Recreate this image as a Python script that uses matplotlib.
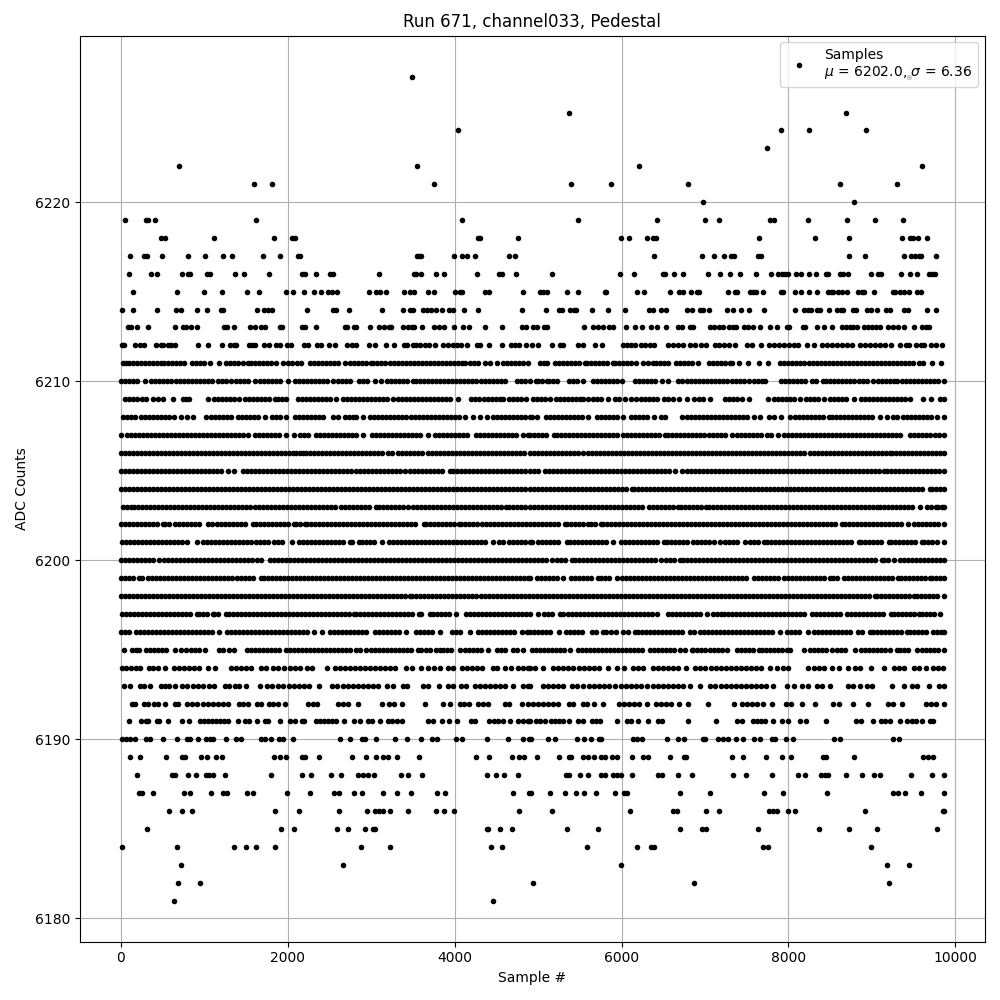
"""Pedestal scatter for run 671, channel033: ADC counts against sample number."""

import numpy as np
import matplotlib
matplotlib.use('Agg')
import matplotlib.pyplot as plt

# sample numbers, one list per ADC count
s6227 = [3490, 9442]
s6225 = [5374, 8686]
s6224 = [4042, 7906, 8242, 8926]
s6223 = [7738]
s6222 = [694, 3550, 6214, 9598]
s6221 = [1594, 1810, 3754, 5398, 5878, 6802, 8614, 9298]
s6220 = [6982, 8782]
s6219 = [46, 300, 320, 406, 1618, 4090, 5482, 6430, 7006, 7162, 7774, 7822, 8230, 8698, 9034, 9370]
s6218 = [478, 526, 1114, 1834, 2050, 2082, 4278, 4302, 4762, 5998, 6094, 6310, 6382, 6418, 7642, 8314, 8722, 9358, 9454, 9490, 9550, 9658]
s6217 = [106, 278, 310, 490, 802, 1006, 1222, 1330, 1702, 1906, 2122, 2146, 3550, 3574, 3598, 3994, 4090, 4150, 4246, 4654, 4726,
         6394, 6970, 7102, 7222, 7306, 7342, 7630, 7666, 8722, 8914, 9382, 9466, 9514, 9562, 9586, 9766]
s6216 = [94, 358, 430, 730, 802, 826, 1030, 1066, 1366, 1474, 1774, 2170, 2206, 2338, 2506, 2542, 3094, 3514, 3538, 3598, 3778, 3874, 4270, 4534, 4570, 4738,
         5170, 5986, 6154, 6502, 6526, 6634, 6742, 7030, 7174, 7294, 7414, 7606, 7786, 7870, 7918, 7954, 7990, 8086, 8146, 8242, 8326, 8446, 8470, 8614, 8650, 8710, 8986, 9070, 9106, 9346, 9454, 9538, 9682, 9718, 9754]
s6215 = [142, 670, 994, 1210, 1510, 1654, 1978, 2062, 2194, 2314, 2398, 2482, 2530, 2590, 2974, 3058, 3106, 3178, 3394, 3466, 3514, 3682, 3754, 4006, 4066, 4090, 4366, 4414, 4822,
         5026, 5062, 5110, 5350, 5482, 5806, 5818, 6190, 6274, 6586, 6694, 6742, 6838, 6910, 6934, 7270, 7354, 7378, 7534, 7570, 7606, 7690, 7906, 7930, 8074, 8146, 8242, 8338, 8470, 8506, 8530, 8590, 8638, 8698, 8830, 8878, 8902, 9022, 9250, 9274, 9334, 9382, 9442, 9538, 9586]
s6214 = [10, 142, 430, 658, 718, 910, 1030, 1198, 1222, 1630, 1714, 1762, 1810, 2230, 2542, 2578, 2734, 3130, 3382, 3466, 3502, 3622, 3670, 3718, 3778, 3850, 3934, 3982, 4114, 4282, 4810,
         5098, 5254, 5290, 5386, 5434, 5458, 5650, 5842, 6046, 6334, 6382, 6478, 6538, 6790, 6850, 6946, 6982, 7042, 7258, 7330, 7426, 7522, 7702, 8074, 8182, 8230, 8266, 8338, 8374, 8482, 8578, 8626, 8650, 8770, 8806, 8938, 8986, 9058, 9166, 9214, 9382, 9430, 9658, 9766]
s6213 = [82, 118, 190, 322, 646, 742, 778, 838, 910, 1234, 1270, 1354, 1546, 1606, 1678, 1726, 1906, 1930, 2170, 2206, 2338, 2686, 2710, 2794, 2818, 2986, 3094, 3154, 3214, 3238, 3382, 3442, 3490, 3514, 3610, 3754, 3814, 3874, 3994, 4102, 4174, 4366, 4570, 4810, 4858,
         4942, 4982, 5074, 5110, 5554, 5662, 5722, 5782, 5854, 5902, 6058, 6166, 6250, 6358, 6430, 6538, 6682, 6730, 6826, 6862, 7054, 7102, 7162, 7210, 7282, 7330, 7366, 7462, 7510, 7570, 7654, 7774, 7858, 7978, 8002, 8170, 8194, 8338, 8422, 8518, 8638, 8686, 8734, 8770, 8818, 8902, 8950, 8998, 9046, 9094, 9190, 9250, 9310, 9382, 9502, 9598, 9646, 9682]
s6212 = [10, 34, 166, 226, 274, 418, 478, 502, 562, 598, 646, 922, 1042, 1210, 1306, 1354, 1378, 1534, 1570, 1606, 1714, 1774, 1858, 1906, 1990, 2038, 2194, 2242, 2350, 2398, 2494, 2566, 2710, 2770, 2818, 2974, 3046, 3178, 3274, 3394, 3430, 3502, 3538, 3586, 3646, 3694, 3766, 3862, 3922, 3982, 4030, 4078, 4150, 4270, 4306, 4414, 4570, 4678, 4726, 4774, 4858,
         4922, 5002, 5170, 5266, 5302, 5482, 5542, 5686, 5770, 6022, 6070, 6118, 6166, 6238, 6286, 6346, 6394, 6562, 6622, 6682, 6742, 6826, 6886, 6958, 7018, 7114, 7162, 7222, 7282, 7354, 7498, 7558, 7666, 7762, 7822, 7882, 7942, 8002, 8062, 8110, 8218, 8302, 8398, 8458, 8518, 8578, 8638, 8698, 8758, 8854, 8914, 8974, 9034, 9094, 9154, 9226, 9334, 9406, 9442, 9526, 9586, 9622, 9706, 9766, 9838]
s6211 = [30, 62, 94, 142, 190, 238, 286, 334, 382, 430, 478, 522, 562, 610, 658, 706, 762, 854, 902, 950, 1002, 1070, 1174, 1262, 1310, 1358, 1406, 1462, 1522, 1562, 1610, 1658, 1706, 1754, 1802, 1854, 1942, 2002, 2054, 2106, 2162, 2270, 2318, 2366, 2414, 2462, 2510, 2558, 2606, 2682, 2742, 2790, 2838, 2886, 2934, 3002, 3022, 3070, 3118, 3162, 3222, 3270, 3318, 3366, 3414, 3462, 3510, 3558, 3606, 3654, 3702, 3750, 3798, 3846, 3902, 3942, 3990, 4038, 4086, 4122, 4190, 4238, 4286, 4362, 4422, 4502, 4582, 4630, 4678, 4726, 4774, 4822, 4882,
         5022, 5066, 5110, 5202, 5250, 5298, 5346, 5394, 5442, 5490, 5562, 5582, 5630, 5678, 5726, 5774, 5822, 5902, 5922, 5970, 6018, 6066, 6114, 6174, 6262, 6322, 6382, 6414, 6462, 6510, 6562, 6650, 6698, 6746, 6794, 6842, 6922, 7042, 7090, 7138, 7186, 7234, 7302, 7322, 7402, 7510, 7642, 7750, 7894, 7942, 7990, 8038, 8086, 8134, 8182, 8242, 8290, 8338, 8386, 8434, 8482, 8530, 8578, 8626, 8674, 8722, 8770, 8818, 8866, 8914, 8962, 9010, 9058, 9106, 9154, 9202, 9250, 9298, 9346, 9394, 9442, 9490, 9562, 9610, 9718, 9826]
s6210 = [0, 46, 94, 142, 190, 286, 362, 410, 462, 502, 550, 602, 662, 710, 758, 806, 854, 902, 950, 998, 1046, 1094, 1162, 1214, 1262, 1322, 1382, 1430, 1478, 1526, 1602, 1662, 1710, 1758, 1806, 1862, 1906, 2002, 2082, 2130, 2178, 2226, 2274, 2322, 2370, 2418, 2466, 2542, 2602, 2650, 2702, 2750, 2854, 2902, 2950, 3042, 3122, 3190, 3238, 3286, 3334, 3382, 3430, 3502, 3542, 3590, 3638, 3686, 3734, 3782, 3830, 3878, 3926, 3974, 4022, 4070, 4118, 4166, 4214, 4262, 4310, 4358, 4406, 4454, 4502, 4550, 4602, 4742, 4790, 4838, 4902,
         4974, 5002, 5050, 5102, 5134, 5182, 5230, 5374, 5414, 5470, 5534, 5662, 5710, 5758, 5806, 5854, 5902, 5950, 6002, 6162, 6210, 6258, 6306, 6354, 6402, 6482, 6562, 6682, 6730, 6782, 6830, 6878, 6926, 6974, 7022, 7070, 7118, 7166, 7214, 7262, 7322, 7374, 7422, 7470, 7522, 7582, 7630, 7678, 7722, 7910, 7958, 8006, 8054, 8102, 8150, 8198, 8282, 8334, 8414, 8454, 8502, 8550, 8598, 8642, 8694, 8742, 8790, 8842, 8890, 8938, 9014, 9070, 9118, 9166, 9214, 9262, 9302, 9362, 9410, 9458, 9506, 9554, 9602, 9650, 9698, 9746, 9794, 9862]
s6209 = [54, 102, 150, 198, 250, 302, 382, 446, 510, 630, 742, 782, 822, 1042, 1122, 1170, 1218, 1266, 1314, 1362, 1422, 1490, 1538, 1586, 1634, 1682, 1730, 1778, 1842, 1882, 1930, 1982, 2122, 2170, 2218, 2266, 2314, 2362, 2410, 2458, 2506, 2582, 2662, 2710, 2758, 2806, 2854, 2902, 2950, 2998, 3046, 3094, 3142, 3190, 3262, 3322, 3370, 3418, 3466, 3514, 3562, 3610, 3658, 3706, 3754, 3802, 3850, 3898, 3946, 4042, 4202, 4250, 4298, 4346, 4394, 4442, 4490, 4542, 4582, 4654, 4702, 4750, 4798, 4854,
         4942, 4982, 5030, 5078, 5142, 5214, 5262, 5310, 5358, 5406, 5454, 5502, 5542, 5602, 5662, 5710, 5758, 5842, 5922, 5970, 6042, 6110, 6174, 6230, 6278, 6326, 6374, 6422, 6510, 6562, 6622, 6694, 6782, 6870, 6934, 6982, 7054, 7242, 7290, 7338, 7386, 7442, 7522, 7750, 7830, 7878, 7926, 7974, 8022, 8070, 8142, 8214, 8262, 8310, 8358, 8422, 8502, 8550, 8598, 8646, 8694, 8782, 8870, 8918, 8966, 9014, 9062, 9110, 9158, 9206, 9254, 9302, 9350, 9402, 9454, 9614, 9710, 9814, 9862]
s6208 = [30, 78, 126, 174, 242, 294, 342, 390, 438, 486, 534, 582, 642, 722, 790, 862, 1022, 1082, 1130, 1178, 1226, 1274, 1322, 1402, 1450, 1498, 1546, 1594, 1642, 1722, 1814, 1862, 1902, 1974, 2082, 2130, 2178, 2226, 2274, 2322, 2370, 2422, 2542, 2602, 2682, 2730, 2778, 2822, 2902, 2982, 3030, 3078, 3126, 3174, 3222, 3270, 3318, 3366, 3414, 3482, 3522, 3570, 3618, 3666, 3714, 3762, 3810, 3858, 3906, 3954, 4002, 4050, 4122, 4222, 4302, 4382, 4462, 4510, 4558, 4606, 4654, 4702, 4750, 4798, 4846, 4902,
         4922, 4990, 5094, 5142, 5190, 5238, 5286, 5334, 5382, 5430, 5478, 5526, 5602, 5702, 5750, 5798, 5846, 5894, 5942, 6022, 6110, 6158, 6206, 6254, 6302, 6390, 6470, 6522, 6722, 6782, 6830, 6878, 6926, 6974, 7022, 7070, 7118, 7166, 7214, 7262, 7310, 7358, 7406, 7454, 7502, 7582, 7662, 7762, 7830, 7910, 8014, 8082, 8130, 8178, 8226, 8274, 8322, 8370, 8418, 8482, 8522, 8570, 8618, 8666, 8714, 8762, 8810, 8858, 8906, 8954, 9002, 9094, 9182, 9250, 9302, 9374, 9422, 9470, 9518, 9566, 9614, 9662, 9710, 9782, 9862]
s6207 = [2, 70, 118, 166, 214, 262, 310, 358, 406, 454, 502, 550, 598, 646, 694, 742, 790, 838, 886, 934, 982, 1030, 1078, 1126, 1174, 1222, 1270, 1318, 1366, 1414, 1462, 1522, 1602, 1650, 1698, 1746, 1794, 1842, 1890, 1982, 2070, 2142, 2190, 2238, 2342, 2382, 2430, 2478, 2526, 2574, 2622, 2670, 2718, 2766, 2814, 2902, 3014, 3062, 3110, 3158, 3206, 3254, 3302, 3350, 3398, 3446, 3494, 3542, 3590, 3682, 3762, 3810, 3858, 3906, 3954, 4002, 4050, 4098, 4146, 4254, 4302, 4350, 4398, 4446, 4494, 4542, 4590, 4638, 4686, 4734, 4822, 4882,
         4902, 4950, 4998, 5046, 5094, 5190, 5230, 5278, 5326, 5374, 5422, 5470, 5518, 5566, 5614, 5662, 5710, 5758, 5806, 5854, 5902, 5950, 6022, 6070, 6118, 6166, 6214, 6262, 6310, 6358, 6406, 6454, 6522, 6562, 6610, 6658, 6706, 6754, 6802, 6850, 6898, 6946, 6994, 7042, 7090, 7138, 7186, 7234, 7322, 7382, 7430, 7478, 7526, 7574, 7622, 7670, 7742, 7790, 7870, 7942, 7990, 8038, 8086, 8134, 8182, 8230, 8278, 8326, 8374, 8422, 8470, 8518, 8566, 8614, 8662, 8710, 8758, 8806, 8854, 8902, 8950, 8998, 9046, 9094, 9142, 9190, 9238, 9286, 9342, 9462, 9510, 9558, 9606, 9654, 9702, 9750, 9798, 9862]
s6206 = [0, 48, 96, 144, 192, 240, 288, 336, 384, 432, 480, 528, 576, 624, 672, 720, 768, 816, 864, 912, 960, 1008, 1056, 1104, 1152, 1200, 1248, 1296, 1344, 1392, 1440, 1488, 1536, 1584, 1632, 1680, 1728, 1776, 1824, 1872, 1920, 1968, 2016, 2064, 2102, 2142, 2182, 2222, 2270, 2318, 2366, 2414, 2462, 2510, 2558, 2606, 2654, 2702, 2750, 2798, 2846, 2894, 2942, 2990, 3038, 3086, 3134, 3202, 3254, 3322, 3370, 3418, 3466, 3514, 3562, 3614, 3682, 3730, 3778, 3826, 3874, 3922, 3970, 4018, 4066, 4114, 4162, 4210, 4258, 4306, 4354, 4402, 4450, 4498, 4546, 4594, 4642, 4690, 4738, 4786, 4834, 4902,
         4950, 4998, 5046, 5094, 5142, 5190, 5238, 5286, 5334, 5382, 5430, 5482, 5542, 5602, 5642, 5690, 5738, 5786, 5834, 5882, 5930, 5978, 6026, 6074, 6122, 6170, 6218, 6266, 6314, 6362, 6410, 6458, 6506, 6554, 6602, 6650, 6698, 6746, 6794, 6842, 6890, 6938, 6986, 7034, 7082, 7130, 7178, 7226, 7274, 7322, 7370, 7418, 7466, 7514, 7562, 7610, 7658, 7706, 7754, 7802, 7850, 7898, 7946, 7994, 8042, 8090, 8138, 8186, 8262, 8302, 8350, 8398, 8446, 8494, 8542, 8590, 8638, 8686, 8734, 8782, 8830, 8878, 8926, 8974, 9022, 9070, 9118, 9166, 9222, 9242, 9290, 9338, 9386, 9434, 9482, 9530, 9578, 9626, 9674, 9722, 9770, 9818, 9860]
s6205 = [0, 48, 96, 144, 192, 240, 288, 336, 384, 432, 480, 528, 576, 624, 672, 720, 768, 816, 864, 912, 960, 1008, 1056, 1104, 1152, 1200, 1282, 1362, 1462, 1510, 1558, 1606, 1654, 1702, 1750, 1798, 1846, 1894, 1942, 1990, 2038, 2086, 2134, 2182, 2230, 2278, 2326, 2374, 2422, 2470, 2518, 2566, 2614, 2662, 2710, 2762, 2822, 2870, 2918, 2966, 3014, 3062, 3110, 3158, 3206, 3254, 3302, 3350, 3402, 3462, 3510, 3558, 3606, 3654, 3702, 3750, 3798, 3846, 3942, 3982, 4030, 4078, 4126, 4174, 4222, 4270, 4318, 4366, 4414, 4462, 4510, 4558, 4606, 4654, 4702, 4750, 4798, 4846, 4902,
         4950, 4998, 5082, 5134, 5182, 5230, 5278, 5326, 5374, 5422, 5470, 5518, 5566, 5614, 5662, 5710, 5758, 5806, 5854, 5902, 5950, 5998, 6046, 6094, 6142, 6190, 6238, 6286, 6334, 6382, 6430, 6478, 6526, 6574, 6642, 6722, 6782, 6830, 6878, 6926, 6974, 7022, 7070, 7118, 7166, 7214, 7262, 7310, 7358, 7406, 7454, 7502, 7550, 7598, 7646, 7694, 7742, 7790, 7838, 7886, 7934, 7982, 8030, 8078, 8126, 8174, 8222, 8270, 8318, 8366, 8414, 8462, 8510, 8558, 8606, 8654, 8702, 8750, 8798, 8846, 8894, 8942, 8990, 9038, 9086, 9142, 9182, 9230, 9278, 9326, 9374, 9422, 9470, 9518, 9566, 9614, 9662, 9710, 9758, 9806, 9860]
s6204 = [0, 48, 96, 144, 192, 240, 288, 336, 384, 432, 480, 528, 576, 624, 672, 720, 768, 816, 864, 912, 960, 1008, 1056, 1104, 1152, 1200, 1248, 1296, 1344, 1392, 1440, 1488, 1536, 1584, 1632, 1680, 1728, 1776, 1824, 1872, 1920, 1968, 2016, 2064, 2112, 2160, 2208, 2256, 2304, 2352, 2400, 2448, 2496, 2544, 2592, 2640, 2688, 2736, 2784, 2832, 2880, 2928, 2976, 3024, 3072, 3120, 3168, 3216, 3264, 3312, 3360, 3408, 3456, 3504, 3552, 3600, 3648, 3696, 3744, 3792, 3840, 3888, 3936, 3984, 4032, 4080, 4128, 4176, 4224, 4272, 4320, 4368, 4416, 4464, 4512, 4560, 4608, 4656, 4704, 4752, 4800, 4848, 4902,
         4950, 4998, 5046, 5094, 5142, 5190, 5238, 5286, 5334, 5382, 5430, 5478, 5526, 5574, 5622, 5670, 5718, 5766, 5814, 5862, 5910, 5958, 6006, 6054, 6122, 6150, 6198, 6246, 6294, 6342, 6390, 6438, 6486, 6534, 6582, 6630, 6678, 6726, 6774, 6822, 6870, 6918, 6966, 7014, 7062, 7110, 7158, 7206, 7254, 7302, 7350, 7398, 7446, 7494, 7542, 7590, 7638, 7686, 7734, 7782, 7830, 7878, 7926, 7974, 8022, 8070, 8118, 8166, 8214, 8262, 8310, 8358, 8406, 8454, 8502, 8550, 8598, 8646, 8694, 8742, 8790, 8838, 8886, 8934, 8982, 9030, 9078, 9126, 9174, 9222, 9270, 9318, 9366, 9414, 9462, 9510, 9558, 9606, 9694, 9722, 9770, 9818, 9860]
s6203 = [30, 78, 122, 162, 210, 258, 306, 354, 402, 450, 498, 546, 594, 642, 690, 738, 786, 834, 882, 930, 978, 1026, 1074, 1122, 1170, 1218, 1266, 1314, 1362, 1410, 1458, 1506, 1554, 1602, 1650, 1698, 1746, 1794, 1842, 1890, 1938, 1986, 2034, 2082, 2130, 2178, 2226, 2274, 2322, 2370, 2418, 2466, 2514, 2562, 2642, 2682, 2730, 2778, 2826, 2874, 2922, 2970, 3062, 3094, 3142, 3190, 3238, 3286, 3334, 3382, 3442, 3502, 3550, 3598, 3646, 3694, 3742, 3790, 3838, 3886, 3934, 3982, 4030, 4078, 4126, 4174, 4222, 4270, 4318, 4366, 4414, 4462, 4510, 4558, 4614, 4654, 4702, 4750, 4798, 4846, 4902,
         4950, 4998, 5046, 5094, 5142, 5190, 5238, 5286, 5334, 5382, 5430, 5478, 5526, 5574, 5622, 5670, 5718, 5766, 5814, 5862, 5910, 5958, 6006, 6054, 6102, 6150, 6198, 6246, 6334, 6382, 6430, 6478, 6526, 6574, 6622, 6682, 6710, 6758, 6806, 6854, 6902, 6950, 7014, 7042, 7090, 7138, 7186, 7234, 7282, 7330, 7378, 7426, 7474, 7522, 7570, 7618, 7666, 7714, 7762, 7810, 7858, 7906, 7954, 8002, 8050, 8098, 8146, 8194, 8242, 8290, 8338, 8386, 8434, 8482, 8530, 8578, 8626, 8674, 8722, 8770, 8818, 8866, 8914, 8962, 9010, 9062, 9102, 9150, 9198, 9246, 9294, 9342, 9390, 9438, 9486, 9574, 9662, 9710, 9762, 9790, 9838, 9860]
s6202 = [0, 48, 96, 144, 192, 240, 288, 336, 384, 432, 502, 534, 582, 654, 702, 750, 798, 846, 894, 942, 1042, 1094, 1150, 1198, 1246, 1294, 1342, 1390, 1438, 1486, 1582, 1622, 1670, 1718, 1766, 1814, 1862, 1910, 1958, 2006, 2070, 2102, 2150, 2202, 2230, 2278, 2326, 2374, 2422, 2470, 2518, 2566, 2614, 2662, 2710, 2758, 2806, 2854, 2902, 2950, 2998, 3046, 3094, 3142, 3190, 3238, 3286, 3334, 3382, 3430, 3478, 3526, 3630, 3654, 3702, 3750, 3798, 3846, 3894, 3942, 3990, 4054, 4082, 4130, 4178, 4226, 4274, 4322, 4370, 4418, 4466, 4514, 4562, 4610, 4658, 4706, 4754, 4802, 4850, 4902,
         4950, 4998, 5046, 5094, 5142, 5190, 5238, 5322, 5342, 5390, 5438, 5486, 5534, 5602, 5630, 5678, 5750, 5774, 5822, 5870, 5918, 5966, 6014, 6062, 6110, 6158, 6206, 6254, 6302, 6350, 6398, 6446, 6494, 6542, 6590, 6638, 6686, 6734, 6782, 6830, 6878, 6926, 6974, 7022, 7070, 7118, 7166, 7214, 7262, 7310, 7358, 7406, 7454, 7502, 7550, 7598, 7646, 7694, 7742, 7790, 7838, 7886, 7934, 7982, 8030, 8078, 8126, 8174, 8222, 8270, 8318, 8366, 8414, 8462, 8510, 8558, 8642, 8682, 8730, 8778, 8826, 8874, 8922, 8970, 9018, 9066, 9114, 9162, 9210, 9258, 9306, 9354, 9430, 9502, 9550, 9598, 9646, 9694, 9742, 9790, 9860]
s6201 = [10, 58, 106, 154, 202, 250, 298, 346, 394, 442, 490, 538, 586, 634, 682, 730, 790, 910, 990, 1038, 1086, 1134, 1182, 1230, 1278, 1326, 1374, 1422, 1470, 1518, 1566, 1614, 1662, 1710, 1758, 1830, 1882, 1930, 2054, 2134, 2182, 2230, 2278, 2326, 2374, 2422, 2470, 2518, 2566, 2614, 2662, 2742, 2774, 2854, 2894, 2942, 2990, 3038, 3134, 3214, 3262, 3310, 3358, 3406, 3454, 3502, 3550, 3598, 3646, 3694, 3742, 3790, 3838, 3886, 3934, 3982, 4030, 4078, 4126, 4174, 4222, 4270, 4318, 4366, 4454, 4526, 4574, 4654, 4694, 4742, 4790, 4838, 4902,
         4922, 5002, 5050, 5098, 5146, 5194, 5242, 5350, 5382, 5430, 5478, 5526, 5574, 5622, 5670, 5718, 5766, 5814, 5902, 5990, 6038, 6086, 6134, 6182, 6230, 6278, 6326, 6374, 6422, 6510, 6542, 6590, 6638, 6686, 6734, 6782, 6862, 6902, 6950, 6998, 7046, 7110, 7182, 7242, 7290, 7338, 7386, 7482, 7534, 7582, 7630, 7702, 7742, 7790, 7838, 7886, 7934, 7982, 8030, 8078, 8126, 8174, 8222, 8270, 8318, 8366, 8414, 8462, 8510, 8558, 8606, 8654, 8702, 8750, 8842, 8870, 8918, 8966, 9014, 9062, 9110, 9202, 9230, 9278, 9326, 9374, 9422, 9470, 9518, 9602, 9630, 9678, 9726, 9774, 9860]
s6200 = [0, 48, 96, 144, 192, 240, 288, 336, 384, 462, 522, 570, 618, 666, 714, 762, 810, 858, 906, 954, 1002, 1050, 1098, 1146, 1194, 1242, 1290, 1338, 1386, 1434, 1482, 1530, 1578, 1626, 1674, 1782, 1830, 1878, 1926, 1974, 2022, 2070, 2118, 2166, 2214, 2262, 2310, 2358, 2406, 2454, 2502, 2550, 2598, 2646, 2694, 2742, 2790, 2838, 2886, 2934, 2982, 3030, 3078, 3126, 3174, 3222, 3270, 3318, 3366, 3414, 3462, 3510, 3558, 3606, 3654, 3702, 3750, 3798, 3846, 3894, 3942, 3990, 4038, 4086, 4134, 4182, 4230, 4278, 4326, 4374, 4422, 4470, 4518, 4566, 4614, 4662, 4710, 4758, 4806, 4854, 4902,
         4950, 4998, 5046, 5094, 5162, 5222, 5270, 5318, 5402, 5442, 5490, 5538, 5586, 5634, 5682, 5730, 5778, 5826, 5874, 5922, 5970, 6018, 6066, 6114, 6162, 6210, 6258, 6306, 6354, 6402, 6470, 6534, 6582, 6630, 6702, 6734, 6782, 6830, 6878, 6926, 6974, 7022, 7070, 7118, 7166, 7214, 7262, 7310, 7358, 7406, 7454, 7502, 7550, 7598, 7646, 7694, 7742, 7790, 7838, 7886, 7934, 7982, 8030, 8078, 8126, 8174, 8222, 8270, 8318, 8366, 8414, 8462, 8510, 8558, 8606, 8654, 8702, 8750, 8798, 8846, 8894, 8942, 8990, 9038, 9122, 9150, 9198, 9262, 9334, 9382, 9430, 9478, 9526, 9574, 9622, 9670, 9718, 9766, 9814, 9860]
s6199 = [0, 48, 96, 144, 214, 254, 322, 370, 418, 466, 514, 562, 610, 658, 706, 754, 802, 850, 898, 946, 994, 1042, 1090, 1138, 1186, 1234, 1282, 1330, 1390, 1442, 1490, 1538, 1586, 1682, 1710, 1758, 1806, 1854, 1902, 1950, 1998, 2046, 2094, 2142, 2190, 2238, 2286, 2334, 2382, 2430, 2478, 2526, 2574, 2622, 2670, 2718, 2766, 2814, 2862, 2910, 2958, 3006, 3054, 3102, 3150, 3198, 3246, 3294, 3342, 3390, 3438, 3486, 3534, 3582, 3630, 3678, 3726, 3774, 3822, 3870, 3918, 3966, 4014, 4062, 4110, 4158, 4206, 4254, 4302, 4350, 4398, 4446, 4494, 4542, 4590, 4638, 4686, 4734, 4782, 4830, 4878,
         4902, 4990, 5030, 5078, 5126, 5174, 5222, 5302, 5390, 5438, 5486, 5534, 5582, 5630, 5722, 5750, 5798, 5846, 5950, 6002, 6050, 6098, 6146, 6194, 6242, 6290, 6338, 6386, 6434, 6482, 6530, 6578, 6626, 6674, 6722, 6770, 6818, 6866, 6914, 6962, 7010, 7058, 7106, 7154, 7202, 7250, 7298, 7346, 7394, 7442, 7490, 7582, 7630, 7678, 7726, 7774, 7822, 7870, 7950, 7990, 8038, 8086, 8134, 8182, 8230, 8278, 8326, 8374, 8422, 8494, 8534, 8582, 8662, 8710, 8758, 8806, 8854, 8902, 8950, 8998, 9046, 9094, 9142, 9190, 9238, 9310, 9350, 9398, 9446, 9494, 9542, 9590, 9638, 9694, 9722, 9770, 9818, 9860]
s6198 = [0, 48, 96, 144, 192, 240, 288, 336, 384, 432, 480, 528, 576, 624, 672, 720, 768, 816, 864, 912, 960, 1008, 1056, 1104, 1152, 1200, 1248, 1296, 1344, 1392, 1440, 1488, 1536, 1584, 1632, 1680, 1728, 1776, 1824, 1872, 1920, 1968, 2016, 2064, 2112, 2160, 2208, 2256, 2304, 2352, 2400, 2448, 2496, 2544, 2592, 2640, 2688, 2736, 2784, 2832, 2880, 2928, 2976, 3024, 3072, 3120, 3168, 3216, 3264, 3312, 3360, 3408, 3462, 3494, 3542, 3590, 3638, 3686, 3734, 3782, 3830, 3878, 3926, 3974, 4022, 4070, 4118, 4166, 4214, 4262, 4310, 4358, 4406, 4454, 4502, 4550, 4598, 4646, 4694, 4742, 4790, 4838, 4886,
         4934, 4982, 5030, 5078, 5126, 5174, 5222, 5270, 5318, 5366, 5414, 5462, 5510, 5558, 5606, 5654, 5702, 5750, 5798, 5846, 5894, 5942, 5990, 6038, 6086, 6134, 6182, 6230, 6278, 6326, 6374, 6422, 6470, 6518, 6566, 6614, 6662, 6710, 6758, 6806, 6854, 6902, 6950, 6998, 7046, 7094, 7142, 7190, 7238, 7286, 7334, 7382, 7430, 7478, 7526, 7574, 7622, 7670, 7718, 7766, 7814, 7862, 7910, 7958, 8006, 8054, 8102, 8150, 8198, 8246, 8294, 8342, 8390, 8438, 8486, 8534, 8582, 8630, 8678, 8726, 8774, 8822, 8870, 8918, 8966, 9042, 9062, 9110, 9158, 9206, 9254, 9302, 9350, 9398, 9446, 9510, 9542, 9590, 9638, 9686, 9734, 9782, 9860]
s6197 = [10, 58, 106, 154, 202, 250, 298, 346, 394, 442, 490, 538, 586, 634, 682, 730, 778, 826, 910, 934, 982, 1030, 1102, 1122, 1170, 1262, 1294, 1342, 1390, 1438, 1486, 1534, 1582, 1630, 1678, 1726, 1774, 1822, 1870, 1918, 1966, 2014, 2062, 2110, 2158, 2206, 2254, 2302, 2350, 2398, 2446, 2494, 2542, 2590, 2638, 2686, 2734, 2790, 2822, 2870, 2918, 2966, 3014, 3062, 3110, 3158, 3206, 3254, 3302, 3350, 3398, 3446, 3494, 3574, 3602, 3702, 3742, 3790, 3838, 3886, 3934, 4014, 4134, 4182, 4230, 4278, 4326, 4374, 4422, 4470, 4518, 4566, 4614, 4662, 4710, 4758, 4806, 4854, 4902,
         5002, 5070, 5118, 5166, 5262, 5294, 5362, 5410, 5458, 5506, 5554, 5602, 5650, 5698, 5746, 5794, 5842, 5890, 5938, 5986, 6034, 6082, 6130, 6178, 6226, 6274, 6322, 6370, 6430, 6562, 6610, 6658, 6706, 6754, 6802, 6850, 6898, 6946, 7022, 7094, 7142, 7190, 7230, 7278, 7326, 7374, 7422, 7470, 7518, 7566, 7614, 7662, 7710, 7758, 7806, 7854, 7902, 7950, 7998, 8046, 8094, 8142, 8190, 8282, 8334, 8382, 8430, 8478, 8526, 8574, 8622, 8702, 8750, 8798, 8846, 8894, 8942, 8990, 9038, 9086, 9134, 9230, 9270, 9318, 9366, 9414, 9462, 9510, 9562, 9602, 9650, 9698, 9746, 9814]
s6196 = [0, 48, 96, 182, 230, 278, 326, 374, 422, 470, 518, 566, 614, 662, 710, 758, 806, 854, 902, 950, 998, 1046, 1094, 1182, 1270, 1318, 1366, 1414, 1462, 1510, 1558, 1606, 1654, 1702, 1750, 1798, 1846, 1894, 1942, 1990, 2038, 2086, 2134, 2182, 2230, 2310, 2414, 2502, 2550, 2598, 2646, 2694, 2742, 2790, 2838, 2886, 2934, 3042, 3094, 3142, 3190, 3238, 3286, 3334, 3414, 3534, 3582, 3630, 3678, 3726, 3830, 3974, 4022, 4070, 4182, 4282, 4330, 4378, 4426, 4474, 4522, 4570, 4618, 4666, 4714, 4802, 4862,
         4902, 4950, 4998, 5046, 5094, 5142, 5254, 5334, 5382, 5430, 5478, 5526, 5642, 5694, 5774, 5814, 5870, 5934, 6022, 6082, 6162, 6202, 6250, 6298, 6346, 6394, 6442, 6490, 6538, 6586, 6634, 6682, 6730, 6822, 6870, 6942, 6990, 7038, 7086, 7134, 7182, 7230, 7278, 7326, 7374, 7422, 7470, 7518, 7566, 7614, 7662, 7710, 7758, 7806, 7902, 7982, 8030, 8078, 8126, 8230, 8310, 8358, 8406, 8454, 8502, 8550, 8598, 8646, 8694, 8742, 8830, 8882, 8982, 9014, 9062, 9110, 9158, 9206, 9254, 9302, 9350, 9422, 9462, 9510, 9558, 9606, 9654, 9734, 9774, 9822, 9860]
s6195 = [42, 134, 182, 214, 302, 350, 398, 446, 494, 542, 654, 722, 782, 842, 890, 938, 1014, 1182, 1230, 1302, 1362, 1510, 1558, 1606, 1654, 1702, 1750, 1798, 1846, 1894, 1974, 2030, 2078, 2126, 2174, 2222, 2270, 2318, 2366, 2414, 2462, 2510, 2558, 2606, 2654, 2702, 2750, 2822, 2862, 2942, 3002, 3050, 3098, 3146, 3194, 3242, 3290, 3338, 3386, 3434, 3482, 3562, 3602, 3662, 3710, 3782, 3822, 3862, 3910, 3958, 4062, 4122, 4170, 4218, 4266, 4314, 4402, 4502, 4550, 4598, 4702, 4742, 4822,
         4922, 4970, 5018, 5066, 5114, 5162, 5210, 5258, 5306, 5382, 5482, 5530, 5578, 5626, 5674, 5722, 5770, 5818, 5866, 5914, 5962, 6010, 6058, 6106, 6154, 6202, 6250, 6342, 6390, 6438, 6486, 6534, 6582, 6630, 6702, 6762, 6842, 6862, 6910, 6958, 7006, 7054, 7102, 7150, 7198, 7262, 7382, 7430, 7478, 7526, 7574, 7642, 7682, 7730, 7778, 7826, 7874, 7922, 7982, 8022, 8182, 8262, 8310, 8358, 8406, 8454, 8522, 8582, 8630, 8682, 8802, 8870, 8918, 8966, 9014, 9062, 9110, 9162, 9222, 9302, 9342, 9390, 9438, 9542, 9602, 9650, 9698, 9746, 9794, 9860]
s6194 = [10, 58, 118, 178, 226, 334, 382, 442, 526, 634, 694, 754, 814, 874, 934, 1042, 1126, 1318, 1378, 1438, 1498, 1558, 1678, 1738, 1822, 1882, 1954, 2026, 2086, 2146, 2230, 2290, 2470, 2566, 2626, 2686, 2746, 2806, 2866, 2926, 2986, 3046, 3106, 3166, 3226, 3286, 3418, 3490, 3598, 3682, 3754, 3826, 3922, 3982, 4090, 4150, 4210, 4270, 4330, 4462, 4510, 4606, 4678, 4762, 4822, 4882,
         4902, 4962, 5062, 5182, 5242, 5302, 5362, 5422, 5494, 5554, 5614, 5674, 5734, 5842, 5950, 6034, 6142, 6202, 6262, 6382, 6442, 6502, 6562, 6622, 6682, 6778, 6886, 6946, 7006, 7066, 7126, 7186, 7246, 7306, 7366, 7426, 7486, 7546, 7606, 7666, 7774, 7858, 7930, 7990, 8230, 8302, 8362, 8422, 8518, 8602, 8710, 8794, 8854, 8986, 9142, 9262, 9322, 9382, 9502, 9562, 9646, 9730, 9790, 9850]
s6193 = [34, 106, 226, 274, 346, 478, 526, 574, 646, 730, 790, 862, 922, 982, 1054, 1114, 1246, 1294, 1366, 1414, 1498, 1666, 1750, 1810, 1882, 1942, 2014, 2074, 2134, 2194, 2254, 2374, 2530, 2590, 2662, 2722, 2782, 2842, 2902, 2962, 3022, 3082, 3190, 3262, 3382, 3430, 3622, 3682, 3814, 3922, 3982, 4078, 4138, 4246, 4306, 4366, 4426, 4486, 4546, 4606, 4702, 4822, 4882,
         4902, 5062, 5122, 5182, 5242, 5302, 5402, 5462, 5542, 5614, 5674, 5734, 5794, 5854, 5926, 5998, 6058, 6118, 6178, 6238, 6310, 6382, 6442, 6502, 6562, 6622, 6682, 6742, 6826, 6946, 7054, 7114, 7186, 7246, 7306, 7366, 7426, 7486, 7546, 7606, 7666, 7726, 7810, 7978, 8062, 8158, 8230, 8338, 8398, 8494, 8710, 8770, 8854, 8938, 8998, 9238, 9382, 9478, 9538, 9682, 9802, 9862]
s6192 = [130, 166, 274, 322, 394, 442, 526, 646, 682, 790, 850, 910, 982, 1042, 1102, 1162, 1222, 1282, 1414, 1462, 1522, 1630, 1678, 1774, 1822, 1882, 1966, 2242, 2302, 2350, 2602, 2662, 2722, 2842, 3130, 3214, 3274, 3370, 3646, 3862, 3946, 4066, 4114, 4174, 4282, 4342, 4402, 4606, 4654, 4810, 4882,
         4934, 5002, 5062, 5122, 5182, 5242, 5374, 5422, 5542, 5590, 5674, 5782, 5974, 6034, 6094, 6154, 6214, 6310, 6418, 6478, 6538, 6598, 6694, 6802, 7030, 7342, 7438, 7498, 7558, 7618, 7690, 7798, 7966, 8026, 8158, 8314, 8530, 8602, 8770, 8950, 9190, 9250, 9358, 9646, 9706, 9766, 9862]
s6191 = [94, 238, 298, 322, 430, 454, 562, 730, 814, 946, 994, 1042, 1090, 1138, 1186, 1234, 1282, 1402, 1486, 1534, 1630, 1726, 1762, 1906, 2026, 2086, 2170, 2194, 2338, 2386, 2434, 2482, 2530, 2578, 2674, 2794, 2866, 2962, 3010, 3106, 3202, 3250, 3310, 3370, 3682, 3742, 3850, 3934, 4030, 4198, 4246, 4414, 4474, 4522, 4582, 4666, 4762, 4822, 4882,
         4902, 4974, 5022, 5086, 5158, 5206, 5254, 5302, 5374, 5482, 5542, 5650, 5698, 5746, 5950, 6070, 6118, 6202, 6322, 6442, 6490, 6802, 7126, 7378, 7438, 7570, 7618, 7666, 7714, 7810, 7918, 7990, 8134, 8206, 8446, 8806, 8866, 9010, 9106, 9154, 9214, 9334, 9418, 9478, 9526, 9598, 9694, 9730]
s6190 = [10, 58, 106, 166, 298, 346, 502, 670, 790, 826, 922, 1018, 1066, 1102, 1258, 1378, 1438, 1678, 1726, 1798, 1894, 1942, 2062, 2626, 2746, 2890, 2926, 3058, 3286, 3430, 3598, 3730, 3790, 4018, 4090, 4382, 4642, 4822, 4894,
         4914, 5122, 5206, 5470, 5554, 5638, 5734, 5758, 6142, 6190, 6250, 6550, 6682, 6754, 6982, 7006, 7150, 7210, 7270, 7366, 7450, 7582, 7654, 7798, 7834, 7966, 8050, 8542, 8614, 9250, 9322]
s6189 = [106, 226, 542, 730, 766, 958, 1030, 1138, 1210, 1834, 1906, 1978, 2170, 2206, 2374, 2770, 2938, 3058, 3142, 3202, 3310, 3574, 4258, 4414, 4690, 4774, 4834,
         4990, 5254, 5374, 5398, 5542, 5602, 5674, 5758, 5806, 5890, 5950, 6130, 6262, 6322, 6586, 6754, 6778, 7318, 7450, 7726, 7918, 8026, 8410, 8446, 8782, 9610, 9670, 9730]
s6188 = [190, 610, 646, 802, 898, 1018, 1054, 1102, 1246, 1798, 2170, 2278, 2518, 2638, 2842, 2902, 2962, 3034, 3358, 3442, 3610, 4390, 4498, 4594, 4762,
         5338, 5374, 5506, 5602, 5758, 5806, 5902, 5950, 5998, 6130, 6442, 6490, 6682, 6850, 7330, 7486, 7798, 8110, 8194, 8386, 8434, 8470, 8686, 8878, 9022, 9094, 9466, 9718, 9862]
s6187 = [214, 250, 382, 754, 826, 1078, 1222, 1270, 1510, 1582, 1986, 2262, 2554, 2614, 2794, 2890, 3142, 3310, 3478, 3790, 3886, 4702, 4894,
         4914, 5146, 5326, 5458, 5554, 5698, 5926, 6034, 6070, 6706, 7054, 7702, 7930, 8458, 9250, 9310, 9394, 9594, 9862]
s6186 = [574, 730, 850, 1846, 2134, 2614, 2950, 3046, 3094, 3142, 3226, 3442, 3778, 3874, 3994, 4774,
         5170, 6106, 6622, 6670, 7018, 7162, 7762, 7810, 7858, 7990, 8074, 8914, 9846, 9862]
s6185 = [310, 1918, 2074, 2590, 2722, 2926, 3022, 3046, 4382, 4402, 4546, 4690,
         5350, 5722, 6706, 6970, 7018, 7630, 8362, 8722, 9058, 9778]
s6184 = [10, 670, 1354, 1498, 1618, 1846, 2878, 3226, 4438, 4570, 5590, 6190, 6358, 6394, 7690, 7750, 8986]
s6183 = [718, 2662, 5998, 9178, 9442]
s6182 = [682, 946, 4934, 6874, 9202]
s6181 = [634, 4462]

adc_levels = [6227, 6225, 6224, 6223, 6222, 6221, 6220, 6219, 6218, 6217, 6216, 6215, 6214, 6213, 6212, 6211,
              6210, 6209, 6208, 6207, 6206, 6205, 6204, 6203, 6202, 6201, 6200, 6199, 6198, 6197, 6196, 6195,
              6194, 6193, 6192, 6191, 6190, 6189, 6188, 6187, 6186, 6185, 6184, 6183, 6182, 6181]
samples_per_level = [s6227, s6225, s6224, s6223, s6222, s6221, s6220, s6219, s6218, s6217, s6216, s6215, s6214, s6213, s6212, s6211,
                     s6210, s6209, s6208, s6207, s6206, s6205, s6204, s6203, s6202, s6201, s6200, s6199, s6198, s6197, s6196, s6195,
                     s6194, s6193, s6192, s6191, s6190, s6189, s6188, s6187, s6186, s6185, s6184, s6183, s6182, s6181]

mean_adc = 6202.0
sigma_adc = 6.36

sample_no = np.concatenate(samples_per_level)
adc = np.concatenate([np.full(len(s), lev) for lev, s in zip(adc_levels, samples_per_level)])

fig, ax = plt.subplots(figsize=(10, 10))
ax.plot(sample_no, adc, 'k.', label='Samples\n$\\mu$ = %.1f, $\\sigma$ = %.2f' % (mean_adc, sigma_adc))
ax.set_xlabel('Sample #')
ax.set_ylabel('ADC Counts')
ax.set_title('Run 671, channel033, Pedestal')
ax.ticklabel_format(useOffset=False, style='plain')
ax.grid(True)
ax.legend(loc='upper right')
fig.tight_layout()
# axes top sits a touch higher in the reference
fig.subplots_adjust(top=0.9645)
fig.savefig('out.png', dpi=100)
